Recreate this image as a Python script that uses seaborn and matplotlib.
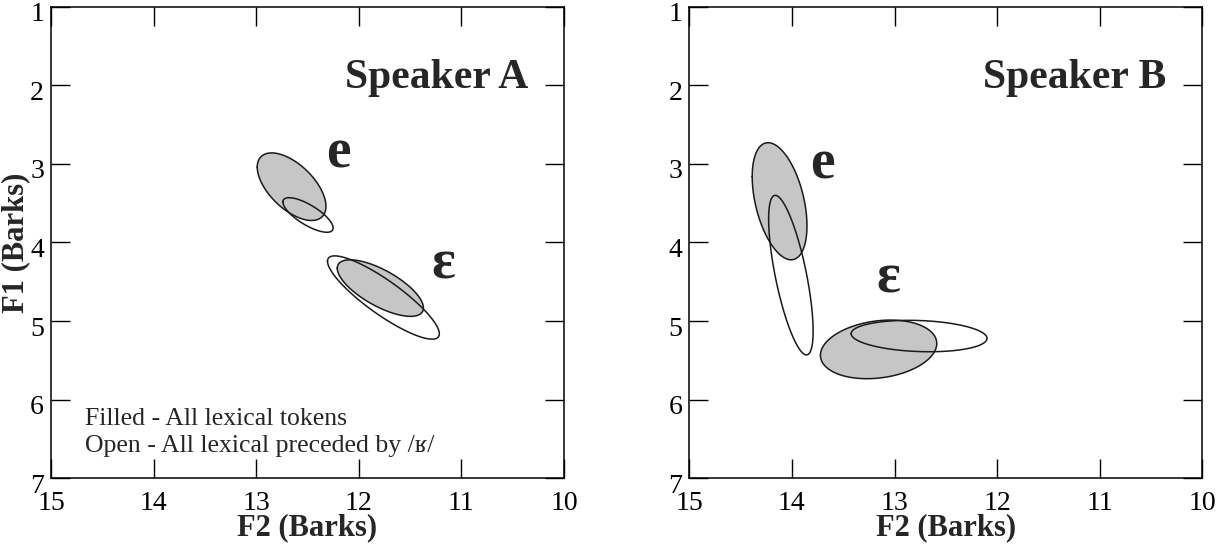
import numpy as np
import pandas as pd
import matplotlib
matplotlib.use("Agg")
import matplotlib.pyplot as plt
import matplotlib.transforms as mtransforms
import seaborn as sns

# ---- data ----
speakers   = ["A", "A", "A", "A", "B", "B", "B", "B"]
vowels     = ["e", "e", "ɛ", "ɛ", "e", "e", "ɛ", "ɛ"]
kinds      = ["filled", "open", "filled", "open", "filled", "open", "filled", "open"]
f2_center  = [12.655, 12.495, 11.79, 11.76, 14.12, 14.01, 13.155, 12.76]
f1_center  = [3.29, 3.65, 4.58, 4.70, 3.475, 4.415, 5.36, 5.19]
f2_half    = [0.335, 0.245, 0.42, 0.545, 0.267, 0.217, 0.567, 0.662]
f1_half    = [0.43, 0.22, 0.36, 0.53, 0.745, 1.015, 0.373, 0.20]
corr       = [-0.58, -0.75, -0.70, -0.87, -0.42, -0.70, 0.20, -0.15]

label_speaker = ["A", "A", "B", "B"]
label_text    = ["e", "ɛ", "e", "ɛ"]
label_f2      = [12.20, 11.18, 13.70, 13.06]
label_f1      = [3.05, 4.46, 3.18, 4.63]

x_ticks = [15, 14, 13, 12, 11, 10]
y_ticks = [1, 2, 3, 4, 5, 6, 7]

df = pd.DataFrame(dict(speaker=speakers, vowel=vowels, kind=kinds,
                       cx=f2_center, cy=f1_center, sx=f2_half, sy=f1_half, r=corr))

# ---- style ----
sns.set_theme(style="ticks")
plt.rcParams["font.family"] = ["Liberation Serif", "DejaVu Serif"]
plt.rcParams["axes.linewidth"] = 1.1
plt.rcParams["axes.edgecolor"] = "black"

fig = plt.figure(figsize=(12.17, 5.46), dpi=100)
ax_pos = {"A": [51 / 1217, 1 - 478.3 / 546, 513 / 1217, 471.6 / 546],
          "B": [689.3 / 1217, 1 - 478.3 / 546, 513 / 1217, 471.6 / 546]}

t = np.linspace(0, 2 * np.pi, 400)
FILL = "#c6c6c6"
EDGE = "#1a1a1a"

for spk in ["A", "B"]:
    ax = fig.add_axes(ax_pos[spk])
    sub = df[df.speaker == spk]
    # fills first
    for _, row in sub.iterrows():
        theta = np.arccos(row.r)
        xs = row.cx + row.sx * np.cos(t)
        ys = row.cy + row.sy * np.cos(t - theta)
        if row.kind == "filled":
            ax.fill(xs, ys, color=FILL, zorder=1, lw=0)
    # outlines
    for _, row in sub.iterrows():
        theta = np.arccos(row.r)
        xs = row.cx + row.sx * np.cos(t)
        ys = row.cy + row.sy * np.cos(t - theta)
        sns.lineplot(x=xs, y=ys, sort=False, estimator=None, ax=ax,
                     color=EDGE, lw=1.1, zorder=2)

    ax.set_xlim(15, 10)
    ax.set_ylim(7, 1)
    ax.set_xticks(x_ticks)
    ax.set_yticks(y_ticks)
    ax.set_xticklabels([str(v) for v in x_ticks])
    ax.set_yticklabels([str(v) for v in y_ticks])
    ax.tick_params(axis="both", direction="in", length=14, width=1.0,
                   top=True, right=True, labelsize=20, colors="black")
    ax.tick_params(axis="x", pad=9)
    ax.tick_params(axis="y", pad=5)
    off = mtransforms.ScaledTranslation(0, -5 / 100, fig.dpi_scale_trans)
    for lab in ax.get_yticklabels():
        lab.set_transform(lab.get_transform() + off)
    for s in ax.spines.values():
        s.set_visible(True)
        s.set_linewidth(1.1)

    ax.set_xlabel("F2 (Barks)", fontsize=22, fontweight="bold")
    ax.xaxis.set_label_coords(0.5, -0.074)
    if spk == "A":
        ax.set_ylabel("F1 (Barks)", fontsize=22, fontweight="bold")
        ax.yaxis.set_label_coords(-0.040, 0.5)
    ax.text(10.35, 2.034, f"Speaker {spk}", ha="right", va="baseline",
            fontsize=30, fontweight="bold")

    for s_, txt, x, y in zip(label_speaker, label_text, label_f2, label_f1):
        if s_ == spk:
            ax.text(x, y, txt, ha="center", va="baseline", fontsize=40,
                    fontweight="bold")

    if spk == "A":
        ax.text(14.67, 6.32, "Filled - All lexical tokens", ha="left",
                va="baseline", fontsize=18.5)
        ax.text(14.67, 6.66, "Open - All lexical preceded by /ʁ/", ha="left",
                va="baseline", fontsize=18.5)

fig.savefig("out.png", dpi=100)
